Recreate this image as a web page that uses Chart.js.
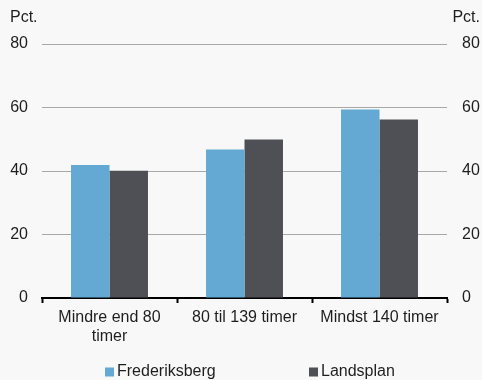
<!DOCTYPE html>
<html>
<head>
<meta charset="utf-8">
<script src="https://cdn.jsdelivr.net/npm/chart.js@4.4.4/dist/chart.umd.min.js"></script>
<style>
  html, body { margin: 0; padding: 0; background: #f7f8f7; }
  #wrap { width: 482px; height: 380px; position: relative; }
</style>
</head>
<body>
<div id="wrap"><canvas id="chart"></canvas></div>
<script>
// data
const categories = [['Mindre end 80', 'timer'], '80 til 139 timer', 'Mindst 140 timer'];
const frederiksberg = [41.9, 46.8, 59.4];
const landsplan = [40.1, 49.9, 56.2];
const yTicks = [0, 20, 40, 60, 80];
const unitLabel = 'Pct.';

const FONT = "'Liberation Sans', Arial, sans-serif";
const TEXT = '#1e1e1e';

// draws "Pct." over both axes and the legend row at the bottom
const extras = {
    id: 'extras',
    afterDraw(chart) {
        const ctx = chart.ctx;
        ctx.save();
        ctx.font = `16px ${FONT}`;
        ctx.fillStyle = TEXT;
        ctx.textBaseline = 'middle';
        ctx.textAlign = 'left';
        ctx.fillText(unitLabel, 10, 18);
        ctx.textAlign = 'right';
        ctx.fillText(unitLabel, 480, 18);

        const xs = [105, 309];
        const y = 372;
        ctx.textAlign = 'left';
        chart.data.datasets.forEach((ds, i) => {
            ctx.fillStyle = ds.backgroundColor;
            ctx.fillRect(xs[i], y - 4.5, 9, 9);
            ctx.fillStyle = TEXT;
            ctx.fillText(ds.label, xs[i] + 12, y);
        });
        ctx.restore();
    }
};

const ctx = document.getElementById('chart').getContext('2d');
new Chart(ctx, {
    type: 'bar',
    data: {
        labels: categories,
        datasets: [
            {
                label: 'Frederiksberg',
                data: frederiksberg,
                backgroundColor: '#63a9d4',
                barPercentage: 1,
                categoryPercentage: 0.57
            },
            {
                label: 'Landsplan',
                data: landsplan,
                backgroundColor: '#4f5055',
                barPercentage: 1,
                categoryPercentage: 0.57
            }
        ]
    },
    options: {
        responsive: true,
        maintainAspectRatio: false,
        animation: false,
        layout: { padding: { top: 44, bottom: 36, left: 0, right: 0 } },
        plugins: {
            legend: { display: false },
            tooltip: { enabled: false }
        },
        scales: {
            x: {
                afterFit: s => { s.height = 46; },
                grid: {
                    drawOnChartArea: false,
                    drawTicks: true,
                    tickLength: 5,
                    tickWidth: 2,
                    tickColor: '#000'
                },
                border: { display: true, color: '#000', width: 2 },
                ticks: {
                    color: TEXT,
                    padding: 5,
                    maxRotation: 0,
                    autoSkip: false,
                    font: { family: FONT, size: 16 }
                }
            },
            y: {
                position: 'left',
                min: 0,
                max: 80,
                afterFit: s => { s.width = 42; },
                afterBuildTicks: s => { s.ticks = yTicks.map(v => ({ value: v })); },
                grid: { color: '#a8a8a8', lineWidth: 1, drawTicks: false },
                border: { display: false },
                ticks: {
                    color: TEXT,
                    padding: 14,
                    font: { family: FONT, size: 16 }
                }
            },
            y2: {
                position: 'right',
                min: 0,
                max: 80,
                afterFit: s => { s.width = 35; },
                afterBuildTicks: s => { s.ticks = yTicks.map(v => ({ value: v })); },
                grid: { display: false, drawTicks: false },
                border: { display: false },
                ticks: {
                    color: TEXT,
                    padding: 15,
                    font: { family: FONT, size: 16 }
                }
            }
        }
    },
    plugins: [extras]
});
</script>
</body>
</html>
